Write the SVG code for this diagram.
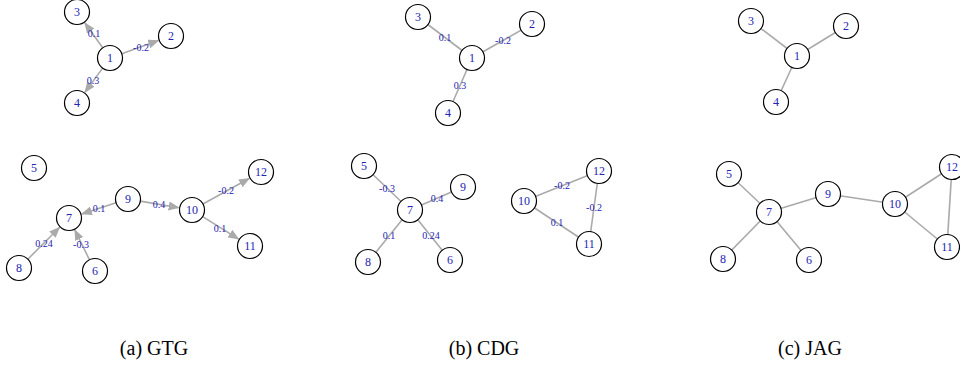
<svg xmlns="http://www.w3.org/2000/svg" width="960" height="369" viewBox="0 0 960 369">
<style>
.n circle{fill:#fff;stroke:#000;stroke-width:1.2}
.n text{font-family:"Liberation Serif",serif;font-size:12px;fill:#2424b4;text-anchor:middle}
.e line{stroke:#aaaaaa;stroke-width:1.6}
.a line{marker-end:url(#ah)}
.lb text{font-family:"Liberation Serif",serif;font-size:10px;fill:#2424b4;text-anchor:middle}
.cap{font-family:"Liberation Serif",serif;font-size:20px;fill:#000;text-anchor:middle}
</style>
<defs>
<marker id="ah" markerWidth="11" markerHeight="9" refX="10" refY="4.5" orient="auto" markerUnits="userSpaceOnUse">
<path d="M0,0 L11,4.5 L0,9 Z" fill="#aaaaaa"/>
</marker>
</defs>
<rect width="960" height="369" fill="#fff"/>
<g id="connectors">
<g class="e a">
<line x1="102.7" y1="47.8" x2="84.9" y2="23.0"/>
<line x1="121.8" y1="53.8" x2="158.3" y2="40.6"/>
<line x1="102.6" y1="68.1" x2="85.0" y2="92.1"/>
<line x1="116.1" y1="202.8" x2="81.9" y2="213.9"/>
<line x1="140.3" y1="201.1" x2="178.7" y2="207.7"/>
<line x1="202.9" y1="204.0" x2="249.2" y2="178.5"/>
<line x1="202.6" y1="216.6" x2="238.5" y2="238.9"/>
<line x1="27.8" y1="259.2" x2="59.5" y2="227.5"/>
<line x1="89.5" y1="259.8" x2="74.9" y2="230.1"/>
</g>
<g class="e">
<line x1="472" y1="58" x2="418" y2="17"/>
<line x1="472" y1="58" x2="532" y2="24"/>
<line x1="472" y1="58" x2="448" y2="113"/>
<line x1="410" y1="210" x2="364" y2="166"/>
<line x1="410" y1="210" x2="463" y2="187"/>
<line x1="410" y1="210" x2="368" y2="262"/>
<line x1="410" y1="210" x2="450" y2="260"/>
<line x1="524" y1="201" x2="599" y2="171"/>
<line x1="599" y1="171" x2="589" y2="244"/>
<line x1="524" y1="201" x2="589" y2="244"/>
<line x1="797" y1="56" x2="751" y2="21"/>
<line x1="797" y1="56" x2="846" y2="26"/>
<line x1="797" y1="56" x2="776" y2="102"/>
<line x1="769" y1="212" x2="729" y2="174"/>
<line x1="769" y1="212" x2="828" y2="194"/>
<line x1="769" y1="212" x2="723" y2="259"/>
<line x1="769" y1="212" x2="809" y2="260"/>
<line x1="828" y1="194" x2="895" y2="204"/>
<line x1="895" y1="204" x2="952" y2="167"/>
<line x1="895" y1="204" x2="947" y2="247"/>
<line x1="952" y1="167" x2="947" y2="247"/>
</g>
</g>
<g id="edge-labels" class="lb">
<text x="94" y="37">0.1</text>
<text x="141" y="51">-0.2</text>
<text x="93" y="84">0.3</text>
<text x="99" y="212">0.1</text>
<text x="159" y="208">0.4</text>
<text x="226" y="194">-0.2</text>
<text x="220" y="232">0.1</text>
<text x="44" y="247">0.24</text>
<text x="81" y="248">-0.3</text>
<text x="445" y="41">0.1</text>
<text x="503" y="44">-0.2</text>
<text x="460" y="89">0.3</text>
<text x="387" y="192">-0.3</text>
<text x="437" y="202">0.4</text>
<text x="389" y="239">0.1</text>
<text x="431" y="239">0.24</text>
<text x="562" y="189">-0.2</text>
<text x="594" y="211">-0.2</text>
<text x="557" y="226">0.1</text>
</g>
<g id="a1" class="n"><circle cx="110" cy="58" r="12.5"/><text x="110" y="62">1</text></g>
<g id="a2" class="n"><circle cx="171" cy="36" r="12.5"/><text x="171" y="40">2</text></g>
<g id="a3" class="n"><circle cx="77" cy="12" r="12.5"/><text x="77" y="16">3</text></g>
<g id="a4" class="n"><circle cx="77" cy="103" r="12.5"/><text x="77" y="107">4</text></g>
<g id="a5" class="n"><circle cx="34" cy="168" r="12.5"/><text x="34" y="172">5</text></g>
<g id="a6" class="n"><circle cx="95" cy="271" r="12.5"/><text x="95" y="275">6</text></g>
<g id="a7" class="n"><circle cx="69" cy="218" r="12.5"/><text x="69" y="222">7</text></g>
<g id="a8" class="n"><circle cx="19" cy="268" r="12.5"/><text x="19" y="272">8</text></g>
<g id="a9" class="n"><circle cx="128" cy="199" r="12.5"/><text x="128" y="203">9</text></g>
<g id="a10" class="n"><circle cx="192" cy="210" r="12.5"/><text x="192" y="214">10</text></g>
<g id="a11" class="n"><circle cx="250" cy="246" r="12.5"/><text x="250" y="250">11</text></g>
<g id="a12" class="n"><circle cx="261" cy="172" r="12.5"/><text x="261" y="176">12</text></g>
<g id="b1" class="n"><circle cx="472" cy="58" r="12.5"/><text x="472" y="62">1</text></g>
<g id="b2" class="n"><circle cx="532" cy="24" r="12.5"/><text x="532" y="28">2</text></g>
<g id="b3" class="n"><circle cx="418" cy="17" r="12.5"/><text x="418" y="21">3</text></g>
<g id="b4" class="n"><circle cx="448" cy="113" r="12.5"/><text x="448" y="117">4</text></g>
<g id="b5" class="n"><circle cx="364" cy="166" r="12.5"/><text x="364" y="170">5</text></g>
<g id="b6" class="n"><circle cx="450" cy="260" r="12.5"/><text x="450" y="264">6</text></g>
<g id="b7" class="n"><circle cx="410" cy="210" r="12.5"/><text x="410" y="214">7</text></g>
<g id="b8" class="n"><circle cx="368" cy="262" r="12.5"/><text x="368" y="266">8</text></g>
<g id="b9" class="n"><circle cx="463" cy="187" r="12.5"/><text x="463" y="191">9</text></g>
<g id="b10" class="n"><circle cx="524" cy="201" r="12.5"/><text x="524" y="205">10</text></g>
<g id="b11" class="n"><circle cx="589" cy="244" r="12.5"/><text x="589" y="248">11</text></g>
<g id="b12" class="n"><circle cx="599" cy="171" r="12.5"/><text x="599" y="175">12</text></g>
<g id="c1" class="n"><circle cx="797" cy="56" r="12.5"/><text x="797" y="60">1</text></g>
<g id="c2" class="n"><circle cx="846" cy="26" r="12.5"/><text x="846" y="30">2</text></g>
<g id="c3" class="n"><circle cx="751" cy="21" r="12.5"/><text x="751" y="25">3</text></g>
<g id="c4" class="n"><circle cx="776" cy="102" r="12.5"/><text x="776" y="106">4</text></g>
<g id="c5" class="n"><circle cx="729" cy="174" r="12.5"/><text x="729" y="178">5</text></g>
<g id="c6" class="n"><circle cx="809" cy="260" r="12.5"/><text x="809" y="264">6</text></g>
<g id="c7" class="n"><circle cx="769" cy="212" r="12.5"/><text x="769" y="216">7</text></g>
<g id="c8" class="n"><circle cx="723" cy="259" r="12.5"/><text x="723" y="263">8</text></g>
<g id="c9" class="n"><circle cx="828" cy="194" r="12.5"/><text x="828" y="198">9</text></g>
<g id="c10" class="n"><circle cx="895" cy="204" r="12.5"/><text x="895" y="208">10</text></g>
<g id="c11" class="n"><circle cx="947" cy="247" r="12.5"/><text x="947" y="251">11</text></g>
<g id="c12" class="n"><circle cx="952" cy="167" r="12.5"/><text x="952" y="171">12</text></g>
<g id="captions">
<text class="cap" x="154" y="355">(a) GTG</text>
<text class="cap" x="484" y="355">(b) CDG</text>
<text class="cap" x="810" y="355">(c) JAG</text>
</g>
</svg>
